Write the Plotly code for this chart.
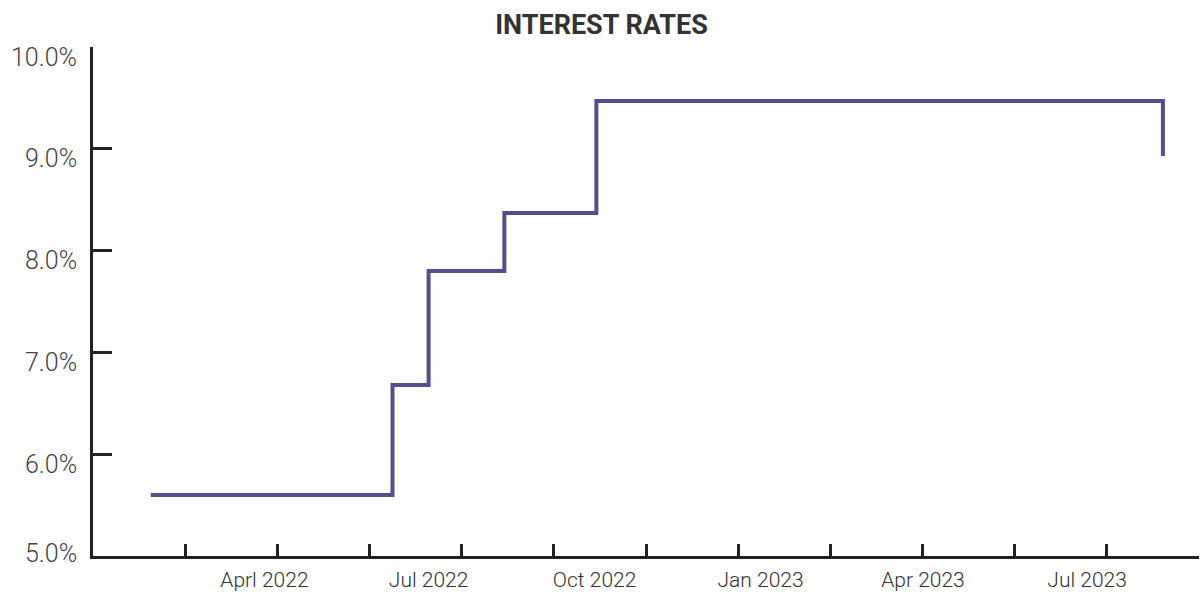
import plotly.graph_objects as go
import pandas as pd

# Data
dates = ["2022-01-28", "2022-06-11", "2022-07-01", "2022-08-12", "2022-10-02", "2023-08-12"]
rates = [5.6, 6.68, 7.8, 8.37, 9.47, 8.93]

label_dates = ["2022-04-01", "2022-07-01", "2022-10-01", "2023-01-01", "2023-04-01", "2023-07-01"]
label_text = ["Aprl 2022", "Jul 2022", "Oct 2022", "Jan 2023", "Apr 2023", "Jul 2023"]
y_ticks = [5, 6, 7, 8, 9, 10]
y_tick_text = [f"{v:.1f}%" for v in y_ticks]

x_start, x_end = "2021-12-27", "2023-09-01"
tick_dates = pd.date_range(x_start, x_end, periods=13)

fig = go.Figure()
fig.add_trace(go.Scatter(
    x=dates, y=rates, mode="lines", line=dict(shape="hv", color="#554e8c", width=4),
    hoverinfo="skip", showlegend=False,
))
# invisible trace for label axis
fig.add_trace(go.Scatter(x=[x_start, x_end], y=[5, 5], xaxis="x2", mode="lines",
                         line=dict(width=0), hoverinfo="skip", showlegend=False))

# y tick labels hang below their ticks (the lowest sits just above the axis)
for v, t in zip(y_ticks, y_tick_text):
    fig.add_annotation(x=0, xref="paper", y=v, yref="y", text=t, showarrow=False,
                       xanchor="right", yanchor="middle",
                       xshift=-14, yshift=3 if v == y_ticks[0] else -10,
                       font=dict(size=25, color="#444444", weight=300, family="Roboto, sans-serif"))

axis_color = "#222222"
fig.update_layout(
    width=1203, height=596,
    margin=dict(l=93, r=4, t=47, b=38),
    paper_bgcolor="white", plot_bgcolor="white",
    font=dict(family="Roboto, sans-serif", color="#444444"),
    title=dict(text="<b>INTEREST RATES</b>", x=0.5, xanchor="center", xref="container",
               y=1 - 25 / 596, yanchor="middle", yref="container",
               font=dict(size=27, color="#333333", family="Roboto, sans-serif")),
    xaxis=dict(type="date", range=[x_start, x_end], tickmode="array", tickvals=tick_dates,
               showticklabels=False, ticks="inside", ticklen=12, tickwidth=3, tickcolor=axis_color,
               showline=True, linecolor=axis_color, linewidth=3, showgrid=False, zeroline=False),
    xaxis2=dict(type="date", range=[x_start, x_end], overlaying="x", side="bottom", anchor="y",
                tickmode="array", tickvals=label_dates, ticktext=label_text, ticks="",
                showline=False, showgrid=False, zeroline=False, ticklabelstandoff=9,
                tickfont=dict(size=21, color="#333333", weight=300)),
    yaxis=dict(range=[5, 10], tickmode="array", tickvals=y_ticks, showticklabels=False,
               ticks="inside", ticklen=19, tickwidth=3, tickcolor=axis_color,
               showline=True, linecolor=axis_color, linewidth=3, showgrid=False, zeroline=False),
)

fig.write_html("out.html")
